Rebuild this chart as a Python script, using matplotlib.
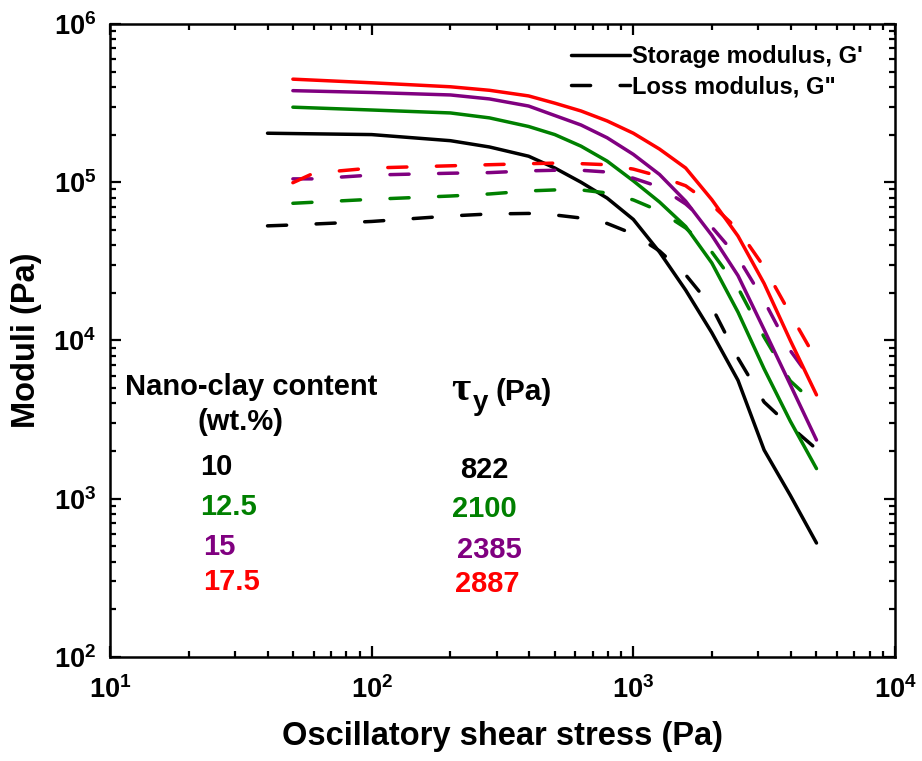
import matplotlib
matplotlib.use("Agg")
import matplotlib.pyplot as plt
from matplotlib.lines import Line2D
from matplotlib.ticker import LogLocator, FixedLocator, FixedFormatter, NullFormatter

plt.rcParams["font.family"] = ["Liberation Sans", "DejaVu Sans"]
plt.rcParams["font.weight"] = "bold"
plt.rcParams["mathtext.fontset"] = "custom"
plt.rcParams["mathtext.rm"] = "Liberation Sans:bold"
plt.rcParams["mathtext.bf"] = "Liberation Sans:bold"
plt.rcParams["mathtext.it"] = "Liberation Sans:bold:italic"
plt.rcParams["mathtext.default"] = "rm"

# ---- data: oscillatory shear stress (Pa) vs moduli (Pa) ----
stress_10 = [40, 50, 100, 200, 282, 398, 501, 631, 794, 1000, 1259, 1585, 1995, 2512, 3162, 3981, 5012]
gp_10 = [2.04e5, 2.03e5, 2.0e5, 1.83e5, 1.67e5, 1.46e5, 1.23e5, 1.0e5, 7.94e4, 5.82e4,
         3.62e4, 2.08e4, 1.12e4, 5600, 2030, 1050, 525]
gpp_10 = [5.3e4, 5.37e4, 5.65e4, 6.12e4, 6.3e4, 6.35e4, 6.21e4, 5.94e4, 5.49e4, 4.71e4,
          3.68e4, 2.6e4, 1.63e4, 7740, 4080, 2860, 2060]

stress = [50, 100, 200, 282, 398, 501, 631, 794, 1000, 1259, 1585, 1995, 2512, 3162, 3981, 5012]
stress_loss = [50, 60, 100, 200, 282, 398, 501, 631, 794, 1000, 1259, 1585, 1995, 2512, 3162, 3981, 5012]

gp_125 = [2.98e5, 2.86e5, 2.74e5, 2.55e5, 2.25e5, 2.0e5, 1.69e5, 1.36e5, 1.02e5, 7.5e4,
          5.25e4, 3.09e4, 1.51e4, 6610, 3090, 1550]
gpp_125 = [7.36e4, 7.8e4, 8.18e4, 8.43e4, 8.81e4, 8.94e4, 8.94e4, 8.55e4, 7.73e4, 6.58e4,
           5.14e4, 3.62e4, 2.15e4, 1.05e4, 5550, 3910]

gp_15 = [3.79e5, 3.69e5, 3.56e5, 3.36e5, 3.03e5, 2.64e5, 2.30e5, 1.91e5, 1.50e5, 1.12e5,
         7.59e4, 4.62e4, 2.57e4, 1.17e4, 5250, 2350]
gpp_15 = [1.05e5, 1.05e5, 1.11e5, 1.14e5, 1.15e5, 1.18e5, 1.19e5, 1.19e5, 1.16e5, 1.06e5,
          9.34e4, 7.29e4, 5.21e4, 3.34e4, 1.78e4, 8630, 5100]

gp_175 = [4.48e5, 4.25e5, 4.01e5, 3.81e5, 3.51e5, 3.16e5, 2.82e5, 2.44e5, 2.04e5, 1.62e5,
          1.23e5, 7.76e4, 4.57e4, 2.29e4, 1.0e4, 4530]
gpp_175 = [9.93e4, 1.14e5, 1.23e5, 1.27e5, 1.29e5, 1.31e5, 1.32e5, 1.31e5, 1.29e5, 1.21e5,
           1.09e5, 9.5e4, 7.2e4, 5.03e4, 2.91e4, 1.47e4, 7530]

clay_labels = ["10", "12.5", "15", "17.5"]
yield_labels = ["822", "2100", "2385", "2887"]
colors = ["#000000", "#008000", "#800080", "#ff0000"]

x_ticks = [1e1, 1e2, 1e3, 1e4]
x_tick_labels = [r"$10^{1}$", r"$10^{2}$", r"$10^{3}$", r"$10^{4}$"]
y_ticks = [1e2, 1e3, 1e4, 1e5, 1e6]
y_tick_labels = [r"$10^{2}$", r"$10^{3}$", r"$10^{4}$", r"$10^{5}$", r"$10^{6}$"]

# ---- figure ----
fig = plt.figure(figsize=(9.22, 7.61), dpi=100)
ax = fig.add_axes([0.1193, 0.1367, 0.8514, 0.8318])

lw = 2.5
dash = (0, (5.5, 8.5))

series = [
    (stress_10, gp_10, stress_10, gpp_10),
    (stress, gp_125, stress, gpp_125),
    (stress, gp_15, stress_loss, gpp_15),
    (stress, gp_175, stress_loss, gpp_175),
]
for (xs, ys, xl, yl), c in zip(series, colors):
    ax.plot(xs, ys, color=c, lw=lw, solid_capstyle="round", solid_joinstyle="round")
    ax.plot(xl, yl, color=c, lw=lw, linestyle=dash, dash_capstyle="round")

ax.set_xscale("log")
ax.set_yscale("log")
ax.set_xlim(10, 1e4)
ax.set_ylim(1e2, 1e6)

ax.xaxis.set_major_locator(FixedLocator(x_ticks))
ax.xaxis.set_major_formatter(FixedFormatter(x_tick_labels))
ax.yaxis.set_major_locator(FixedLocator(y_ticks))
ax.yaxis.set_major_formatter(FixedFormatter(y_tick_labels))
ax.xaxis.set_minor_locator(LogLocator(base=10, subs=range(2, 10), numticks=20))
ax.yaxis.set_minor_locator(LogLocator(base=10, subs=range(2, 10), numticks=20))
ax.xaxis.set_minor_formatter(NullFormatter())
ax.yaxis.set_minor_formatter(NullFormatter())

ax.tick_params(which="both", direction="in", top=True, right=True, width=1.6)
ax.tick_params(which="major", length=8)
ax.tick_params(which="minor", length=4.5)
ax.tick_params(axis="y", which="major", labelsize=19.5, pad=10)
ax.tick_params(axis="x", which="major", labelsize=19.5, pad=14)
for sp in ax.spines.values():
    sp.set_linewidth(1.8)

ax.set_xlabel("Oscillatory shear stress (Pa)", fontsize=23.5, fontweight="bold", labelpad=12)
ax.set_ylabel("Moduli (Pa)", fontsize=23.5, fontweight="bold", labelpad=8)

# legend for line styles
handles = [
    Line2D([], [], color="black", lw=lw, solid_capstyle="round"),
    Line2D([], [], color="black", lw=lw, linestyle=dash, dash_capstyle="round"),
]
ax.legend(handles, ["Storage modulus, G'", 'Loss modulus, G"'], loc="upper right",
          bbox_to_anchor=(0.974, 0.985), frameon=False, handlelength=2.5,
          handletextpad=0.1, labelspacing=0.3, borderpad=0,
          prop={"family": "Liberation Sans", "weight": "bold", "size": 17})

# composition / yield-stress table
tfs = 21
ax.text(0.019, 0.414, "Nano-clay content", transform=ax.transAxes, fontsize=tfs,
        fontweight="bold", va="baseline", ha="left")
ax.text(0.112, 0.3586, "(wt.%)", transform=ax.transAxes, fontsize=tfs,
        fontweight="bold", va="baseline", ha="left")
ax.text(0.4345, 0.406, "\u03c4", transform=ax.transAxes, fontsize=30,
        family="Liberation Serif", va="baseline", ha="left")
ax.text(0.4625, 0.390, "y", transform=ax.transAxes, fontsize=20,
        fontweight="bold", va="baseline", ha="left")
ax.text(0.4905, 0.406, "(Pa)", transform=ax.transAxes, fontsize=21.5,
        fontweight="bold", va="baseline", ha="left")

left_pos = [(0.1146, 0.2875), (0.1146, 0.2243), (0.1185, 0.1611), (0.1185, 0.1058)]
right_pos = [(0.4459, 0.2828), (0.4357, 0.2212), (0.442, 0.1564), (0.4395, 0.1027)]
for lab, yl, c, (lx, ly), (rx, ry) in zip(clay_labels, yield_labels, colors, left_pos, right_pos):
    ax.text(lx, ly, lab, transform=ax.transAxes, fontsize=tfs, fontweight="bold",
            color=c, va="baseline", ha="left")
    ax.text(rx, ry, yl, transform=ax.transAxes, fontsize=tfs, fontweight="bold",
            color=c, va="baseline", ha="left")

fig.savefig("out.png", dpi=100)
